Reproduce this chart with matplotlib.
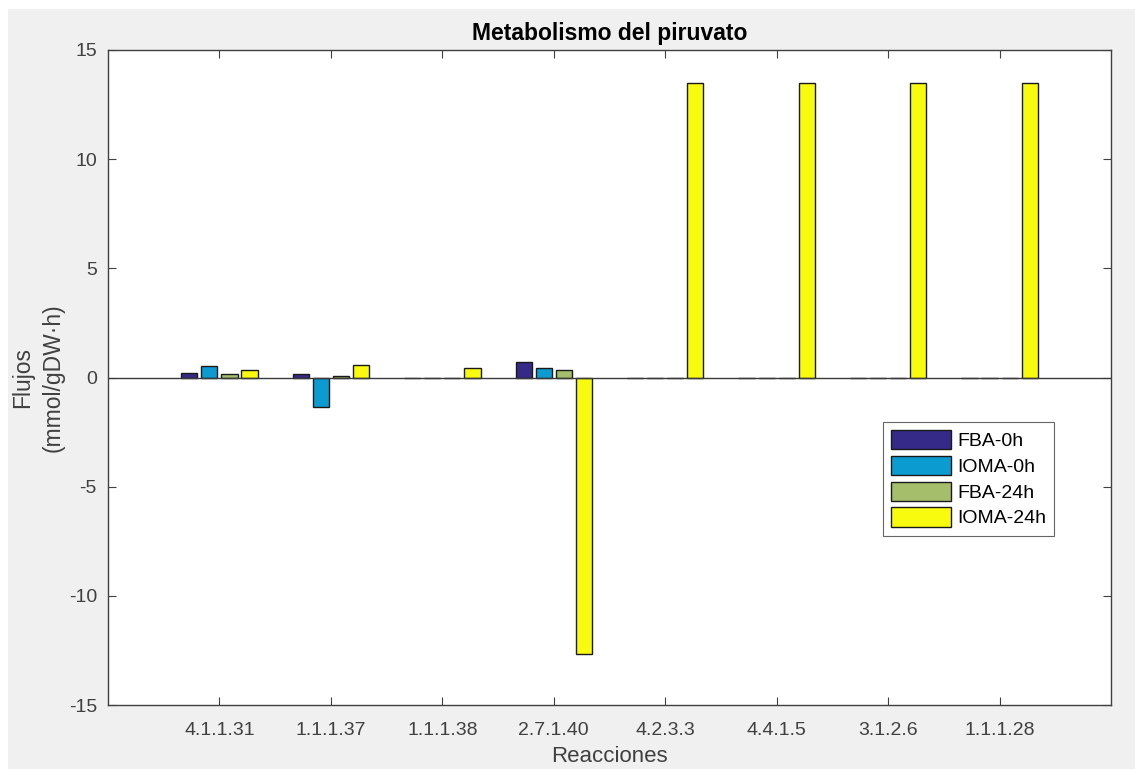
import matplotlib
matplotlib.use("Agg")
import matplotlib.pyplot as plt
from matplotlib.patches import Rectangle
import numpy as np

plt.rcParams['font.family'] = ['Liberation Sans', 'DejaVu Sans']
plt.rcParams['axes.unicode_minus'] = False

categories = ["4.1.1.31", "1.1.1.37", "1.1.1.38", "2.7.1.40", "4.2.3.3", "4.4.1.5", "3.1.2.6", "1.1.1.28"]
fba_0h = [0.21, 0.16, 0.0, 0.73, 0.0, 0.0, 0.0, 0.0]
ioma_0h = [0.52, -1.36, 0.0, 0.44, 0.0, 0.0, 0.0, 0.0]
fba_24h = [0.16, 0.08, 0.0, 0.36, 0.0, 0.0, 0.0, 0.0]
ioma_24h = [0.36, 0.59, 0.44, -12.67, 13.5, 13.5, 13.5, 13.5]

series = [("FBA-0h", fba_0h, "#352a87"),
          ("IOMA-0h", ioma_0h, "#0b9bd0"),
          ("FBA-24h", fba_24h, "#a5be6b"),
          ("IOMA-24h", ioma_24h, "#f9fb0e")]

W, H = 1135, 769
fig = plt.figure(figsize=(W / 100, H / 100), dpi=100, facecolor="#f0f0f0")
# thin white strips at top and left, as in the screenshot
fig.patches.append(Rectangle((0, 1 - 9 / H), 1, 9 / H, transform=fig.transFigure,
                             facecolor="white", edgecolor="none", zorder=-10))
fig.patches.append(Rectangle((0, 0), 8 / W, 1, transform=fig.transFigure,
                             facecolor="white", edgecolor="none", zorder=-10))

ax = fig.add_axes([108 / W, 1 - 705 / H, (1111 - 108) / W, (705 - 50) / H])
ax.set_facecolor("white")

x = np.arange(1, len(categories) + 1)
step = 0.18
width = 0.145
for i, (name, vals, col) in enumerate(series):
    ax.bar(x + (i - 1.5) * step, vals, width, color=col, edgecolor="#1a1a1a",
           linewidth=1.0, label=name, zorder=2)

ax.axhline(0, color="#3a3a3a", linewidth=1.0, zorder=3)
ax.set_xlim(0, 9)
ax.set_ylim(-15, 15)
ax.set_yticks([-15, -10, -5, 0, 5, 10, 15])
ax.set_xticks(x)
ax.set_xticklabels(categories)
ax.tick_params(direction="in", top=True, right=True, length=6, width=0.8,
               labelsize=14, colors="#404040")
ax.tick_params(axis="x", pad=12)
ax.tick_params(axis="y", pad=8)
for s in ax.spines.values():
    s.set_color("#404040")
    s.set_linewidth(1.0)

ax.set_title("Metabolismo del piruvato", fontsize=16.5, fontweight="bold", pad=7)
ax.set_xlabel("Reacciones", fontsize=16, color="#404040")
ax.xaxis.set_label_coords(0.5, (705 - 757) / 655)
ax.xaxis.label.set_verticalalignment("center")
ax.set_ylabel("Flujos\n(mmol/gDW·h)", fontsize=16.5, color="#404040", linespacing=1.45)
ax.yaxis.set_label_coords((38 - 108) / 1003, 0.5)
ax.yaxis.label.set_verticalalignment("center")

leg = ax.legend(loc="upper left", bbox_to_anchor=(883 / W, 1 - 422 / H),
                bbox_transform=fig.transFigure, borderaxespad=0, fontsize=14,
                frameon=True, fancybox=False, edgecolor="#404040",
                handlelength=3.1, handleheight=1.15, borderpad=0.42,
                labelspacing=0.28, handletextpad=0.3)
leg.get_frame().set_linewidth(0.8)

fig.savefig("out.png", dpi=100, facecolor=fig.get_facecolor())
